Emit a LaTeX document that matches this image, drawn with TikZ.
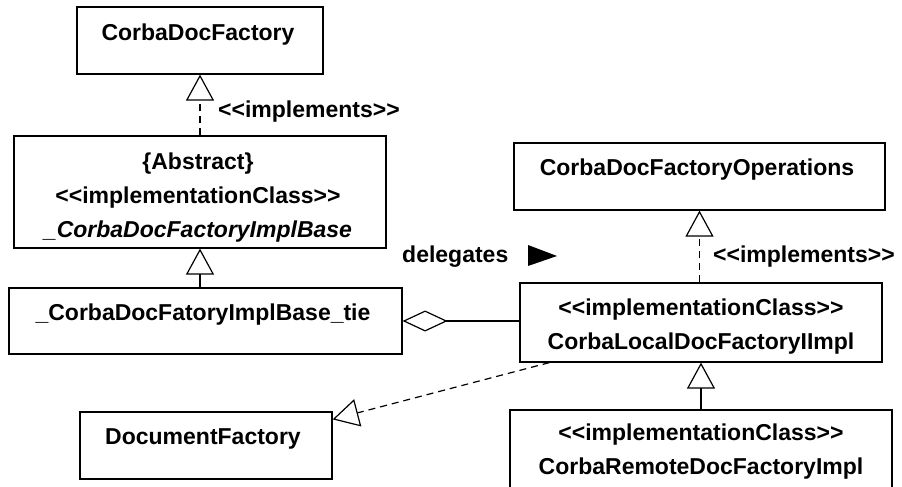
\documentclass[tikz,border=0pt]{standalone}
\usepackage{fontspec}
\setmainfont{Liberation Sans}
\usetikzlibrary{arrows.meta,calc}
\tikzset{
  box/.style={draw, line width=1.2pt, inner sep=0pt, fill=white},
  lbl/.style={font=\bfseries\fontsize{23}{34}\selectfont, inner sep=0pt, align=center},
  dsh/.style={dash pattern=on 7pt off 5pt},
  real/.style={line width=1.2pt, -{Triangle[open,width=28pt,length=26pt,line width=1.2pt]}},
  agg/.style={line width=1.2pt, -{Diamond[open,width=21pt,length=45pt,line width=1.2pt]}},
}
\begin{document}
\begin{tikzpicture}[x=1pt,y=-1pt]
\fill[white] (0,0) rectangle (902,487);
\clip (0,0) rectangle (902,487);
% boxes
\node[box, minimum width=246pt, minimum height=67pt] (A) at (200,40.5) {};
\node[lbl] (At) at (198,35) {CorbaDocFactory};
\node[box, minimum width=372pt, minimum height=112pt] (B) at (200,192) {};
\node[lbl] (Bt) at (198,198) {\{Abstract\}\\<{}<implementationClass>{}>\\\itshape \_CorbaDocFactoryImplBase};
\node[box, minimum width=393pt, minimum height=66pt] (C) at (205.5,321) {};
\node[lbl] (Ct) at (203,315) {\_CorbaDocFatoryImplBase\_tie};
\node[box, minimum width=252pt, minimum height=67pt] (D) at (206,445.5) {};
\node[lbl] (Dt) at (203,439) {DocumentFactory};
\node[box, minimum width=371pt, minimum height=67pt] (E) at (699.5,176.5) {};
\node[lbl] (Et) at (697,170) {CorbaDocFactoryOperations};
\node[box, minimum width=362pt, minimum height=79pt] (F) at (701,322.5) {};
\node[lbl] (Ft) at (701,327) {<{}<implementationClass>{}>\\CorbaLocalDocFactoryIImpl};
\node[box, minimum width=382pt, minimum height=110pt] (G) at (701,465) {};
\node[lbl] (Gt) at (701,452) {<{}<implementationClass>{}>\\CorbaRemoteDocFactoryImpl};
% labels
\node[lbl, anchor=west] (im1) at (218,112) {<{}<implements>{}>};
\node[lbl, anchor=west] (im2) at (713,257) {<{}<implements>{}>};
\node[lbl, anchor=west] (dl) at (402,257) {delegates};
\fill (528,245) -- (557,256) -- (528,266) -- cycle;
% connectors
\draw[real, dsh] (B.north) -- (A.south);
\draw[real] (B.south |- C.north) -- (B.south);
\draw[real, dsh] (E.south |- F.north) -- (E.south);
\draw[real] (F.south |- G.north) -- (F.south);
\draw[real, dsh] ([xshift=30pt]F.south west) -- ([yshift=-8pt]D.north east);
\draw[agg] (C.east -| F.west) -- (C.east);
\end{tikzpicture}
\end{document}
